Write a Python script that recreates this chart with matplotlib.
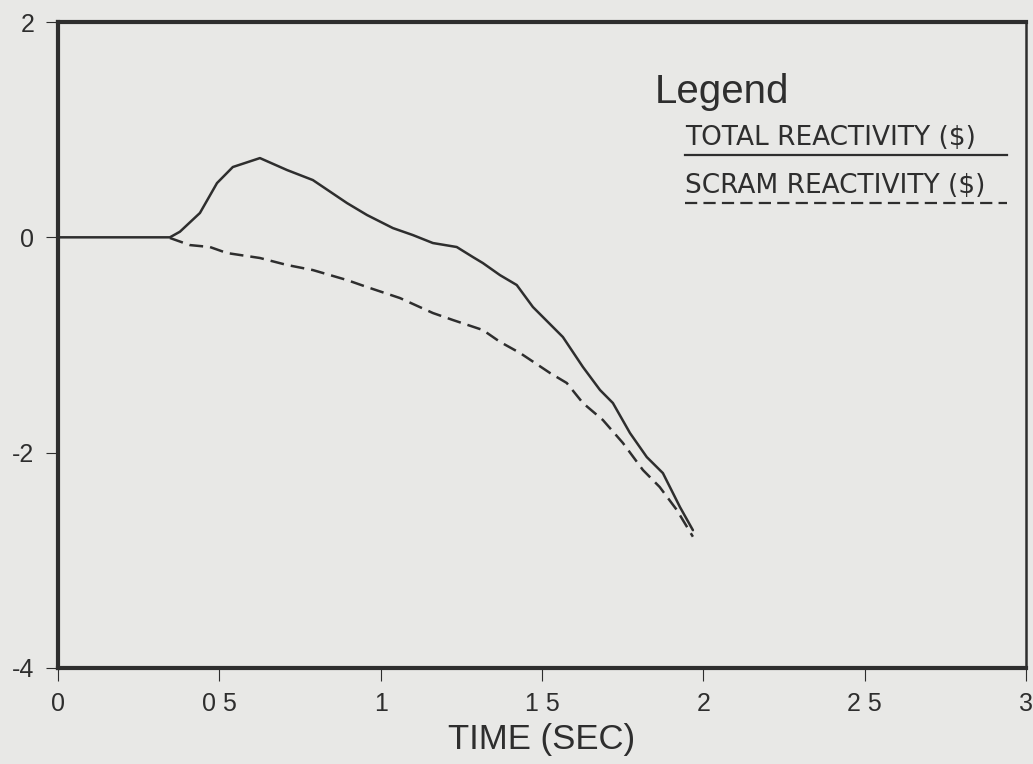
import matplotlib
matplotlib.use("Agg")
import matplotlib.pyplot as plt
from matplotlib.lines import Line2D

# Total reactivity ($) versus time (s)
total_time = [0.0, 0.347, 0.378, 0.440, 0.493, 0.542, 0.626, 0.710, 0.790, 0.896,
              0.958, 1.038, 1.100, 1.162, 1.236, 1.286, 1.317, 1.370, 1.422, 1.472,
              1.565, 1.627, 1.680, 1.720, 1.773, 1.825, 1.875, 1.928, 1.968]
total_react = [0.0, 0.0, 0.052, 0.226, 0.504, 0.653, 0.736, 0.625, 0.532, 0.318,
               0.207, 0.086, 0.021, -0.053, -0.090, -0.183, -0.239, -0.351, -0.443, -0.647,
               -0.926, -1.204, -1.418, -1.539, -1.818, -2.041, -2.190, -2.506, -2.720]

# Scram reactivity ($) versus time (s)
scram_time = [0.347, 0.409, 0.471, 0.524, 0.626, 0.710, 0.790, 0.896, 0.958, 1.060,
              1.162, 1.224, 1.317, 1.370, 1.432, 1.525, 1.577, 1.627, 1.689, 1.751,
              1.813, 1.865, 1.918, 1.968]
scram_react = [-0.006, -0.072, -0.090, -0.146, -0.192, -0.257, -0.304, -0.397, -0.462, -0.564,
               -0.703, -0.768, -0.861, -0.971, -1.074, -1.260, -1.353, -1.539, -1.697, -1.910,
               -2.161, -2.319, -2.532, -2.781]

x_ticks = [0, 0.5, 1, 1.5, 2, 2.5, 3]
x_tick_labels = ["0", "0 5", "1", "1 5", "2", "2 5", "3"]
y_ticks = [-4, -2, 0, 2]
y_tick_labels = ["-4", "-2", "0", "2"]

ink = "#2e2e2e"
paper = "#e8e8e6"
font = ["Liberation Sans", "DejaVu Sans"]
wide_font = ["DejaVu Sans"]
plt.rcParams["font.family"] = font

fig = plt.figure(figsize=(10.33, 7.64), dpi=100, facecolor=paper)
ax = fig.add_axes([0.0561, 0.1257, 0.937, 0.8455], facecolor=paper)

ax.plot(total_time, total_react, color=ink, lw=1.8, solid_capstyle="round")
ax.plot(scram_time, scram_react, color=ink, lw=1.8, dashes=(5.5, 2.8))

ax.set_xlim(0, 3)
ax.set_ylim(-4, 2)
ax.set_xticks(x_ticks)
ax.set_xticklabels(x_tick_labels)
ax.set_yticks(y_ticks)
ax.set_yticklabels(y_tick_labels)
ax.tick_params(axis="both", direction="out", length=9, width=0.8, color=ink,
               labelsize=18, labelcolor=ink, pad=8)

for side in ["left", "bottom", "top"]:
    ax.spines[side].set_linewidth(3.0)
    ax.spines[side].set_color(ink)
ax.spines["right"].set_linewidth(1.8)
ax.spines["right"].set_color(ink)

ax.set_xlabel("TIME (SEC)", fontsize=25, color=ink, labelpad=5)

# Hand-drawn style legend block
ax.text(0.617, 0.875, "Legend", transform=ax.transAxes, fontsize=29,
        color=ink, ha="left", va="baseline")
ax.text(0.648, 0.810, "TOTAL REACTIVITY ($)", transform=ax.transAxes, fontsize=19,
        family=wide_font, color=ink, ha="left", va="baseline")
ax.add_line(Line2D([0.648, 0.981], [0.794, 0.794], transform=ax.transAxes,
                   color=ink, lw=1.6))
ax.text(0.648, 0.735, "SCRAM REACTIVITY ($)", transform=ax.transAxes, fontsize=19,
        family=wide_font, color=ink, ha="left", va="baseline")
ax.add_line(Line2D([0.648, 0.981], [0.720, 0.720], transform=ax.transAxes,
                   color=ink, lw=1.6, dashes=(5.5, 2.8)))

fig.savefig("out.png", dpi=100, facecolor=paper)
